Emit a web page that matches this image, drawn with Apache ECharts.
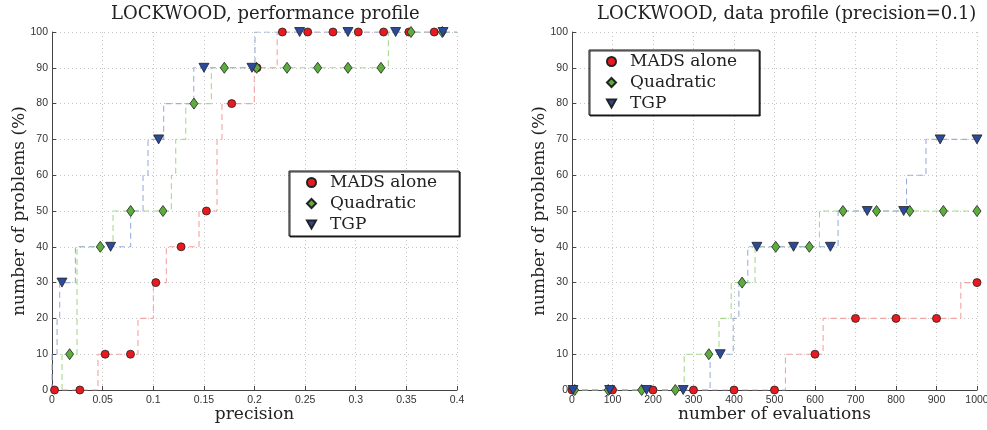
<!DOCTYPE html>
<html><head><meta charset="utf-8">
<script src="https://cdn.jsdelivr.net/npm/echarts@6/dist/echarts.min.js"></script>
<style>html,body{margin:0;padding:0;background:#fff}#c{width:987px;height:430px}</style>
</head><body><div id="c"></div>
<script>
// ---- text ----
const seriesNames = ['MADS alone', 'Quadratic', 'TGP'];
const titles = ['LOCKWOOD, performance profile', 'LOCKWOOD, data profile (precision=0.1)'];
const xAxisNames = ['precision', 'number of evaluations'];
const yAxisName = 'number of problems (%)';

// ---- axes ----
const perfXMin = 0, perfXMax = 0.4, perfXStep = 0.05;
const evalXMin = 0, evalXMax = 1000, evalXStep = 100;
const yMin = 0, yMax = 100, yStep = 10;

// ---- performance profile (left): step lines (x where the level changes, new level) ----
const perfMadsStepX = [0, 0.0454, 0.0849, 0.1001, 0.1129, 0.1452, 0.163, 0.1679, 0.1998, 0.2224, 0.4];
const perfMadsStepY = [0, 10, 20, 30, 40, 50, 70, 80, 90, 100, 100];
const perfQuadStepX = [0, 0.0099, 0.0247, 0.0603, 0.1179, 0.1222, 0.1321, 0.1574, 0.3322, 0.4];
const perfQuadStepY = [0, 10, 40, 50, 60, 70, 80, 90, 100, 100];
const perfTgpStepX  = [0, 0, 0.005, 0.0076, 0.0231, 0.0777, 0.0899, 0.0948, 0.1103, 0.140, 0.2005, 0.4];
const perfTgpStepY  = [0, 10, 20, 30, 40, 50, 60, 70, 80, 90, 100, 100];
// markers
const perfMadsMarkX = [0.0025, 0.0275, 0.0525, 0.0775, 0.1025, 0.1275, 0.1525, 0.1775, 0.2025, 0.2275, 0.2525, 0.2775, 0.3025, 0.3275, 0.3525, 0.3775];
const perfMadsMarkY = [0, 0, 10, 10, 30, 40, 50, 80, 90, 100, 100, 100, 100, 100, 100, 100];
const perfQuadMarkX = [0.0174, 0.0477, 0.0777, 0.1096, 0.1402, 0.1702, 0.2021, 0.2321, 0.2624, 0.2923, 0.3249, 0.3546, 0.3855];
const perfQuadMarkY = [10, 40, 50, 50, 80, 90, 90, 90, 90, 90, 90, 100, 100];
const perfTgpMarkX  = [0.0099, 0.0579, 0.1053, 0.1501, 0.1975, 0.2446, 0.2923, 0.3394, 0.3862];
const perfTgpMarkY  = [30, 40, 70, 90, 90, 100, 100, 100, 100];

// ---- data profile (right) ----
const dataMadsStepX = [0, 527, 620, 960, 1000];
const dataMadsStepY = [0, 10, 20, 30, 30];
const dataQuadStepX = [0, 277, 363, 393, 452, 611, 1000];
const dataQuadStepY = [0, 10, 20, 30, 40, 50, 50];
const dataTgpStepX  = [0, 341, 398, 412, 434, 657, 826, 874, 1000];
const dataTgpStepY  = [0, 10, 20, 30, 40, 50, 60, 70, 70];
const dataMadsMarkX = [0, 100, 200, 300, 400, 500, 600, 700, 800, 900, 1000];
const dataMadsMarkY = [0, 0, 0, 0, 0, 0, 10, 20, 20, 20, 30];
const dataQuadMarkX = [6.7, 89.5, 172, 255, 338, 420, 503, 586, 669, 752, 834, 917, 1000];
const dataQuadMarkY = [0, 0, 0, 0, 10, 30, 40, 40, 50, 50, 50, 50, 50];
const dataTgpMarkX  = [2.5, 93, 184, 274.5, 366, 456.5, 547, 638, 729, 819, 909, 1000];
const dataTgpMarkY  = [0, 0, 0, 0, 10, 40, 40, 40, 50, 50, 70, 70];

// ---- style ----
const markerColors = ['#e8191f', '#5cae3c', '#2b4a9c'];
const lineColors = ['#f4a3a3', '#a8da8c', '#9caedb'];
const symbols = ['circle', 'diamond', 'path://M0,0 L10,0 L5,9 Z'];
const symbolSizes = [8, [8, 11], [10, 9]];
const serif = '"DejaVu Serif", "Liberation Serif", serif';
const sans = '"Liberation Sans", Arial, sans-serif';

const zip = (xs, ys) => xs.map((x, i) => [x, ys[i]]);

const chart = echarts.init(document.getElementById('c'), null, {renderer: 'canvas'});

function makeAxisX(idx, min, max, step, name, gap) {
  return {
    type: 'value', gridIndex: idx, min: min, max: max, interval: step,
    name: name, nameLocation: 'middle', nameGap: gap, nameMoveOverlap: false,
    nameTextStyle: {fontFamily: serif, fontSize: 17, color: '#222'},
    axisLine: {show: true, onZero: false, lineStyle: {color: '#444', width: 1}},
    axisTick: {show: true, inside: true, length: 4, lineStyle: {color: '#444'}},
    axisLabel: {fontFamily: sans, fontSize: 10.5, color: '#333', margin: 5, formatter: v => String(v)},
    splitLine: {show: true, lineStyle: {color: '#c4c4c4', type: [1, 3], width: 1}}
  };
}
function makeAxisY(idx) {
  return {
    type: 'value', gridIndex: idx, min: yMin, max: yMax, interval: yStep,
    name: yAxisName, nameLocation: 'middle', nameGap: 24, nameMoveOverlap: false,
    nameTextStyle: {fontFamily: serif, fontSize: 17, color: '#222'},
    axisLine: {show: true, onZero: false, lineStyle: {color: '#444', width: 1}},
    axisTick: {show: true, inside: true, length: 4, lineStyle: {color: '#444'}},
    axisLabel: {fontFamily: sans, fontSize: 10.5, color: '#333', margin: 4, formatter: v => String(v)},
    splitLine: {show: true, lineStyle: {color: '#c4c4c4', type: [1, 3], width: 1}}
  };
}

const lineSets = [
  [0, perfMadsStepX, perfMadsStepY, 0], [0, perfQuadStepX, perfQuadStepY, 1], [0, perfTgpStepX, perfTgpStepY, 2],
  [1, dataMadsStepX, dataMadsStepY, 0], [1, dataQuadStepX, dataQuadStepY, 1], [1, dataTgpStepX, dataTgpStepY, 2]
];
const markSets = [
  [0, perfMadsMarkX, perfMadsMarkY, 0], [0, perfQuadMarkX, perfQuadMarkY, 1], [0, perfTgpMarkX, perfTgpMarkY, 2],
  [1, dataMadsMarkX, dataMadsMarkY, 0], [1, dataQuadMarkX, dataQuadMarkY, 1], [1, dataTgpMarkX, dataTgpMarkY, 2]
];

const series = [];
lineSets.forEach(([g, xs, ys, s]) => {
  series.push({
    name: seriesNames[s] + ' step ' + g, type: 'line', step: 'end',
    xAxisIndex: g, yAxisIndex: g, data: zip(xs, ys), showSymbol: false, symbol: 'none',
    lineStyle: {color: lineColors[s], width: 1.1, type: [6, 4]}, z: 2, silent: true
  });
});
markSets.forEach(([g, xs, ys, s]) => {
  series.push({
    name: seriesNames[s], type: 'scatter', xAxisIndex: g, yAxisIndex: g,
    data: zip(xs, ys), symbol: symbols[s], symbolSize: symbolSizes[s], clip: false,
    itemStyle: {color: markerColors[s], borderColor: '#222', borderWidth: 0.8, opacity: 1}, z: 3 + s
  });
});

function makeLegend(left, top) {
  return {
    left: left, top: top, orient: 'vertical', data: seriesNames,
    itemWidth: 9, itemHeight: 9, itemGap: 0,
    padding: [1, 22, 1, 17],
    backgroundColor: '#fff', borderColor: '#111', borderWidth: 1,
    shadowColor: 'rgba(0,0,0,0.8)', shadowOffsetX: 1, shadowOffsetY: 1, shadowBlur: 0,
    textStyle: {fontFamily: serif, fontSize: 17, lineHeight: 21, color: '#222', padding: [0, 0, 0, 9]},
    selectedMode: false, z: 10
  };
}

chart.setOption({
  animation: false,
  backgroundColor: '#fff',
  title: [
    {text: titles[0], left: 111, top: 5, padding: 0, textStyle: {fontFamily: serif, fontSize: 18, fontWeight: 'normal', color: '#222'}},
    {text: titles[1], left: 597, top: 5, padding: 0, textStyle: {fontFamily: serif, fontSize: 18, fontWeight: 'normal', color: '#222'}}
  ],
  grid: [
    {left: 52, top: 32, width: 405, height: 358, containLabel: false, outerBoundsMode: 'none'},
    {left: 572, top: 32, width: 405, height: 358, containLabel: false, outerBoundsMode: 'none'}
  ],
  xAxis: [
    makeAxisX(0, perfXMin, perfXMax, perfXStep, xAxisNames[0], 16),
    makeAxisX(1, evalXMin, evalXMax, evalXStep, xAxisNames[1], 16)
  ],
  yAxis: [makeAxisY(0), makeAxisY(1)],
  legend: [makeLegend(289, 171), makeLegend(589, 50)],
  series: series
});
</script>
</body></html>
